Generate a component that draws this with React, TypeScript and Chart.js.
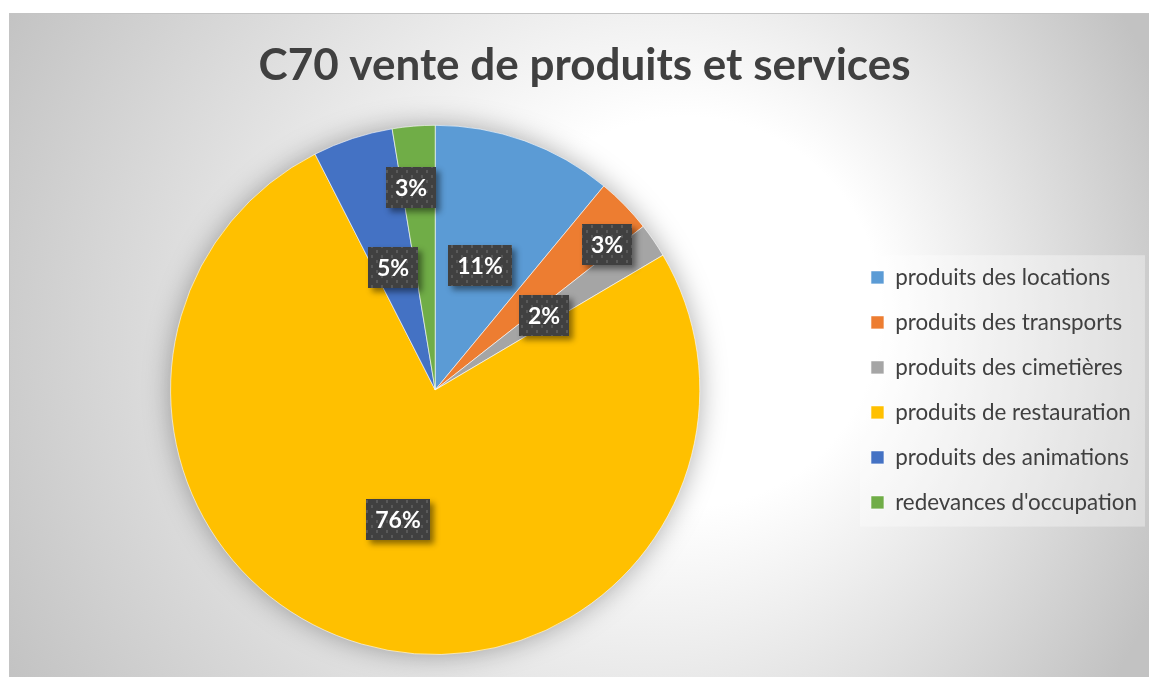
import React, { useEffect, useRef } from 'react';
import { Chart, registerables } from 'chart.js';

Chart.register(...registerables);

const chartTitle = 'C70 vente de produits et services';
const categories = [
  'produits des locations',
  'produits des transports',
  'produits des cimetières',
  'produits de restauration',
  'produits des animations',
  "redevances d'occupation",
];
const shares = [11.0, 3.4, 2.1, 76.0, 4.9, 2.6];
const sliceColors = ['#5B9BD5', '#ED7D31', '#A5A5A5', '#FFC000', '#4472C4', '#70AD47'];

const labelPlacements = [
  { r: 0.5, da: 0 },
  { r: 0.85, da: 4 },
  { r: 0.5, da: 0 },
  { r: 0.51, da: 0 },
  { r: 0.49, da: -1 },
  { r: 0.77, da: -2 },
];

function makePattern(ctx: CanvasRenderingContext2D) {
  const c = document.createElement('canvas');
  c.width = 10;
  c.height = 10;
  const p = c.getContext('2d')!;
  p.fillStyle = 'rgba(110,110,110,0.55)';
  p.fillRect(1, 1, 2, 3);
  p.fillRect(6, 6, 2, 3);
  return ctx.createPattern(c, 'repeat')!;
}

const backgroundPlugin = {
  id: 'bgPlugin',
  beforeDraw(chart: any) {
    const { ctx, width, height } = chart;
    ctx.save();
    const g = ctx.createRadialGradient(730, 286, 0, 550, 326, 650);
    g.addColorStop(0, '#ffffff');
    g.addColorStop(0.3, '#ffffff');
    g.addColorStop(1, '#c2c2c2');
    ctx.fillStyle = g;
    ctx.fillRect(0, 0, width, height);
    const lg = chart.legend;
    if (lg && lg.legendHitBoxes && lg.legendHitBoxes.length) {
      const hb = lg.legendHitBoxes;
      const x0 = hb[0].left - 11;
      const y0 = hb[0].top - 11;
      const last = hb[hb.length - 1];
      const y1 = last.top + last.height + 13;
      ctx.fillStyle = 'rgba(255,255,255,0.35)';
      ctx.fillRect(x0, y0, 285, y1 - y0);
    }
    ctx.restore();
  },
};

const pieShadowPlugin = {
  id: 'pieShadow',
  beforeDatasetsDraw(chart: any) {
    const arc = chart.getDatasetMeta(0).data[0];
    if (!arc) return;
    const { x, y, outerRadius } = arc.getProps(['x', 'y', 'outerRadius'], true);
    const ctx = chart.ctx;
    ctx.save();
    ctx.shadowColor = 'rgba(0,0,0,0.35)';
    ctx.shadowBlur = 28;
    ctx.fillStyle = '#cccccc';
    ctx.beginPath();
    ctx.arc(x, y, outerRadius - 1, 0, Math.PI * 2);
    ctx.fill();
    ctx.restore();
  },
};

const sliceLabelsPlugin = {
  id: 'sliceLabels',
  afterDatasetsDraw(chart: any, _args: any, opts: any) {
    const ctx: CanvasRenderingContext2D = chart.ctx;
    const meta = chart.getDatasetMeta(0);
    const data: number[] = chart.data.datasets[0].data;
    const total = data.reduce((a, b) => a + b, 0);
    const pattern = makePattern(ctx);
    ctx.save();
    ctx.font = 'bold 23px Lato';
    meta.data.forEach((arc: any, i: number) => {
      const p = arc.getProps(['x', 'y', 'startAngle', 'endAngle', 'outerRadius'], true);
      const pl = opts.placements[i];
      const mid = (p.startAngle + p.endAngle) / 2 + (pl.da * Math.PI) / 180;
      const r = p.outerRadius * pl.r;
      const cx = p.x + Math.cos(mid) * r;
      const cy = p.y + Math.sin(mid) * r;
      const text = Math.round((data[i] / total) * 100) + '%';
      const tw = ctx.measureText(text).width;
      const w = Math.round(tw + 18);
      const h = 41;
      const bx = Math.round(cx - w / 2);
      const by = Math.round(cy - h / 2);
      ctx.save();
      ctx.shadowColor = 'rgba(0,0,0,0.45)';
      ctx.shadowBlur = 6;
      ctx.shadowOffsetX = 4;
      ctx.shadowOffsetY = 4;
      ctx.fillStyle = '#404040';
      ctx.fillRect(bx, by, w, h);
      ctx.restore();
      ctx.fillStyle = pattern;
      ctx.fillRect(bx, by, w, h);
      ctx.fillStyle = '#ffffff';
      ctx.textAlign = 'center';
      ctx.textBaseline = 'middle';
      ctx.fillText(text, bx + w / 2, by + h / 2 + 1);
    });
    ctx.restore();
  },
};

export default function App() {
  const ref = useRef<HTMLCanvasElement>(null);
  useEffect(() => {
    if (!ref.current) return;
    const chart = new Chart(ref.current, {
      type: 'pie',
      data: {
        labels: categories,
        datasets: [
          {
            data: shares,
            backgroundColor: sliceColors,
            borderColor: 'rgba(255,255,255,0.6)',
            borderWidth: 1,
            hoverOffset: 0,
            offset: 0,
          },
        ],
      },
      options: {
        responsive: false,
        animation: false,
        devicePixelRatio: 1,
        layout: { padding: { left: 12, right: 2, top: 0, bottom: 22 } },
        plugins: {
          title: {
            display: true,
            text: chartTitle,
            color: '#404040',
            font: { family: 'Lato', size: 44, weight: 'bold' },
            padding: { top: 25, bottom: 33 },
          },
          legend: {
            position: 'right',
            fullSize: false,
            labels: {
              boxWidth: 13,
              boxHeight: 13,
              padding: 22.6,
              color: '#404040',
              font: { family: 'Lato', size: 22.4 },
            },
          },
          tooltip: { enabled: false },
          sliceLabels: { placements: labelPlacements },
        } as any,
      },
      plugins: [backgroundPlugin, pieShadowPlugin, sliceLabelsPlugin],
    });
    return () => chart.destroy();
  }, []);
  return (
    <div
      style={{
        position: 'absolute',
        left: 9,
        top: 13,
        borderLeft: '1px solid #c4c4c4',
        borderTop: '1px solid #c4c4c4',
        width: 1139,
        height: 663,
      }}
    >
      <canvas ref={ref} width={1139} height={663} style={{ display: 'block' }} />
    </div>
  );
}
